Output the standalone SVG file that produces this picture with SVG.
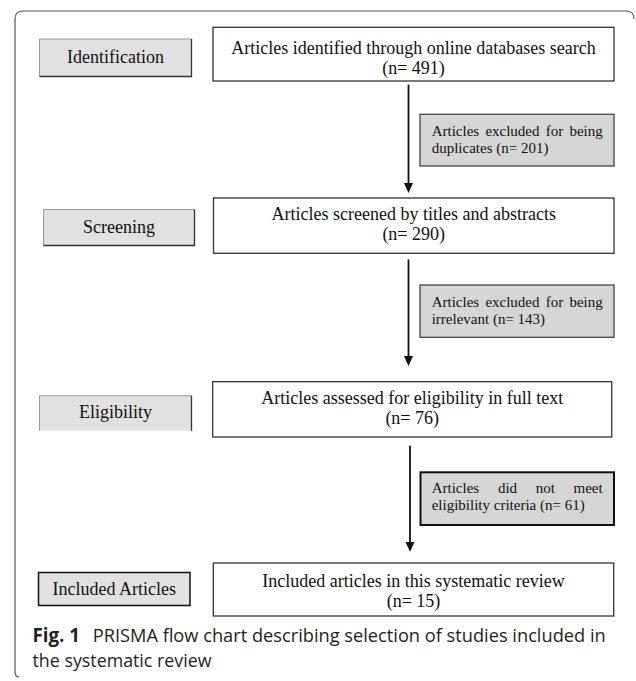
<svg xmlns="http://www.w3.org/2000/svg" width="636" height="681" viewBox="0 0 636 681">
<style>
.frame{fill:none;stroke:#555;stroke-width:1.2}
.main{fill:#fff;stroke:#333;stroke-width:1.3}
.lab{fill:#e1e1e1;stroke:none}
.lt{fill:none;stroke:#9a9a9a;stroke-width:1}
.dk{fill:none;stroke:#333;stroke-width:1.3}
.exc{fill:#d6d6d6;stroke:#444;stroke-width:1.3}
.exc3{fill:#d6d6d6;stroke:#111;stroke-width:2}
.t18{font-family:"Liberation Serif","Times New Roman",serif;font-size:18px;fill:#111}
.t15{font-family:"Liberation Serif","Times New Roman",serif;font-size:15px;fill:#111}
.c{text-anchor:middle}
.cap{font-family:"Open Sans","Noto Sans",sans-serif;font-size:19px;fill:#231f20}
.capb{font-family:"Open Sans","Noto Sans",sans-serif;font-size:19px;font-weight:bold;fill:#231f20}
.arr{stroke:#111;stroke-width:1.8;fill:none}
.head{fill:#111}
</style>
<path class="frame" d="M 634 19 Q 634 11 626 11 L 23 11 Q 15 11 15 19 L 15 672 Q 15 677 19 677"/>

<g id="label-identification">
<rect class="lab" x="39.5" y="39" width="152" height="37.5"/>
<path class="lt" d="M 39.5 76.5 L 39.5 39 L 191.5 39"/>
<path class="dk" d="M 191.5 39 L 191.5 76.5 L 39.5 76.5"/>
<text class="t18 c" x="115.5" y="63.3">Identification</text>
</g>
<g id="label-screening">
<rect class="lab" x="43.5" y="209.5" width="151" height="36"/>
<path class="lt" d="M 43.5 245.5 L 43.5 209.5 L 194.5 209.5"/>
<path class="dk" d="M 194.5 209.5 L 194.5 245.5 L 43.5 245.5"/>
<text class="t18 c" x="119" y="233">Screening</text>
</g>
<g id="label-eligibility">
<rect class="lab" x="39.5" y="395.7" width="152" height="35"/>
<path class="lt" d="M 39.5 430.7 L 39.5 395.7 L 191.5 395.7"/>
<path class="dk" d="M 191.5 395.7 L 191.5 430.7"/>
<text class="t18 c" x="115.6" y="418">Eligibility</text>
</g>
<g id="label-included">
<rect x="38.5" y="572.5" width="151.5" height="33" fill="#e1e1e1" stroke="#111" stroke-width="1.5"/>
<text class="t18 c" x="114.3" y="595">Included Articles</text>
</g>

<g id="box-identified">
<rect class="main" x="213" y="27.3" width="401" height="53.7"/>
<text class="t18 c" x="413.5" y="53.5">Articles identified through online databases search</text>
<text class="t18 c" x="413.5" y="73.5">(n= 491)</text>
</g>
<g id="box-screened">
<rect class="main" x="213.5" y="198" width="400.5" height="55.3"/>
<text class="t18 c" x="413.7" y="220">Articles screened by titles and abstracts</text>
<text class="t18 c" x="413.7" y="240">(n= 290)</text>
</g>
<g id="box-assessed">
<rect class="main" x="212.7" y="381.7" width="399" height="55.3"/>
<text class="t18 c" x="412.2" y="404">Articles assessed for eligibility in full text</text>
<text class="t18 c" x="412.2" y="424">(n= 76)</text>
</g>
<g id="box-included">
<rect class="main" x="213.3" y="563" width="400.4" height="53"/>
<text class="t18 c" x="413.5" y="587">Included articles in this systematic review</text>
<text class="t18 c" x="413.5" y="607">(n= 15)</text>
</g>

<g id="excl-duplicates">
<rect class="exc" x="420" y="114.3" width="194" height="51.7"/>
<text class="t15" y="136"><tspan x="431.7">Articles</tspan><tspan x="485.4">excluded</tspan><tspan x="545.7">for</tspan><tspan x="569.4">being</tspan></text>
<text class="t15" x="431.7" y="152.5">duplicates (n= 201)</text>
</g>
<g id="excl-irrelevant">
<rect class="exc" x="420" y="285" width="194" height="52.3"/>
<text class="t15" y="306.7"><tspan x="431.7">Articles</tspan><tspan x="485.4">excluded</tspan><tspan x="545.7">for</tspan><tspan x="569.4">being</tspan></text>
<text class="t15" x="431.7" y="323.7">irrelevant (n= 143)</text>
</g>
<g id="excl-eligibility">
<rect class="exc3" x="420.5" y="472.3" width="193.5" height="52.7"/>
<text class="t15" y="493.3"><tspan x="431.7">Articles</tspan><tspan x="497.9">did</tspan><tspan x="535.7">not</tspan><tspan x="573.5">meet</tspan></text>
<text class="t15" x="431.7" y="510">eligibility criteria (n= 61)</text>
</g>

<g id="connectors">
<line class="arr" x1="408.5" y1="84.5" x2="408.5" y2="184"/>
<polygon class="head" points="404,183 413,183 408.5,193"/>
<line class="arr" x1="408.5" y1="259.5" x2="408.5" y2="357"/>
<polygon class="head" points="404,356 413,356 408.5,366"/>
<line class="arr" x1="410" y1="445.7" x2="410" y2="543"/>
<polygon class="head" points="405.5,542 414.5,542 410,551.7"/>
</g>

<g id="caption">
<text class="capb" x="32.5" y="642" textLength="47.5" lengthAdjust="spacingAndGlyphs">Fig. 1</text>
<text class="cap" x="92.7" y="642" textLength="513" lengthAdjust="spacingAndGlyphs">PRISMA flow chart describing selection of studies included in</text>
<text class="cap" x="32.5" y="667" textLength="179" lengthAdjust="spacingAndGlyphs">the systematic review</text>
</g>
</svg>
